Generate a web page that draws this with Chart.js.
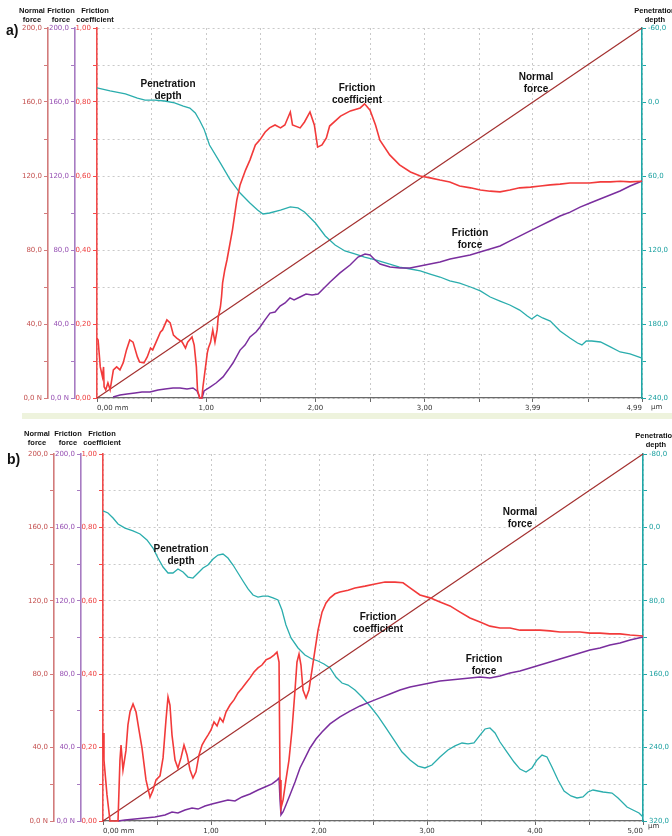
<!DOCTYPE html>
<html>
<head>
<meta charset="utf-8">
<script src="https://cdn.jsdelivr.net/npm/chart.js@4.4.1/dist/chart.umd.min.js"></script>
<style>
  html, body { margin: 0; padding: 0; background: #fff; }
  body { width: 672px; height: 836px; overflow: hidden; position: relative;
         font-family: "Liberation Sans", Arial, sans-serif; }
  canvas { position: absolute; left: 0; }
  .t { position: absolute; font-weight: bold; text-align: center; white-space: nowrap;
       transform: translateX(-50%); color: #111; }
  .ax { font-size: 7.5px; line-height: 8.5px; }
  .note { font-size: 10px; line-height: 12px; }
  .pl { position: absolute; font-weight: bold; font-size: 14px; color: #111; }
  .unit { position: absolute; font-family: "DejaVu Sans", sans-serif; font-size: 7px; color: #333; }
  .band { position: absolute; left: 22px; width: 650px; top: 413px; height: 6px; background: #eef3dd; }
</style>
</head>
<body>
<canvas id="ca" width="672" height="418" style="top:0"></canvas>
<canvas id="cb" width="672" height="416" style="top:420px"></canvas>
<div class="band"></div>

<!-- panel a) headings -->
<div class="pl" style="left:6px;top:22px">a)</div>
<div class="t ax" style="left:32px;top:7px">Normal<br>force</div>
<div class="t ax" style="left:61px;top:7px">Friction<br>force</div>
<div class="t ax" style="left:95px;top:7px">Friction<br>coefficient</div>
<div class="t ax" style="left:655px;top:7px">Penetration<br>depth</div>
<div class="t note" style="left:168px;top:78px">Penetration<br>depth</div>
<div class="t note" style="left:357px;top:82px">Friction<br>coefficient</div>
<div class="t note" style="left:536px;top:71px">Normal<br>force</div>
<div class="t note" style="left:470px;top:227px">Friction<br>force</div>
<div class="unit" style="left:651px;top:403px">µm</div>

<!-- panel b) headings -->
<div class="pl" style="left:7px;top:451px">b)</div>
<div class="t ax" style="left:37px;top:430px">Normal<br>force</div>
<div class="t ax" style="left:68px;top:430px">Friction<br>force</div>
<div class="t ax" style="left:102px;top:430px">Friction<br>coefficient</div>
<div class="t ax" style="left:656px;top:432px">Penetration<br>depth</div>
<div class="t note" style="left:181px;top:543px">Penetration<br>depth</div>
<div class="t note" style="left:378px;top:611px">Friction<br>coefficient</div>
<div class="t note" style="left:520px;top:506px">Normal<br>force</div>
<div class="t note" style="left:484px;top:653px">Friction<br>force</div>
<div class="unit" style="left:648px;top:822px">µm</div>

<script>
// ---------- shared tick labels (listed from the axis minimum upward) ----------
const forceTickLabels = ['0,0 N', '', '40,0', '', '80,0', '', '120,0', '', '160,0', '', '200,0'];
const coefTickLabels  = ['0,00', '', '0,20', '', '0,40', '', '0,60', '', '0,80', '', '1,00'];

// ---------- panel a) : sliding distance in mm ----------
const aXTicks  = [0, 0.5, 1, 1.5, 2, 2.5, 3, 3.5, 3.99, 4.5, 4.99];
const aXLabels = ['0,00 mm', '', '1,00', '', '2,00', '', '3,00', '', '3,99', '', '4,99'];
const aDepthTickLabels = ['-60,0', '', '0,0', '', '60,0', '', '120,0', '', '180,0', '', '240,0'];

const aNormal = [[0, 0], [4.99, 200]];                       // N
const aCoef = [                                               // friction coefficient
  [0.00,0.162],[0.01,0.157],[0.03,0.084],[0.05,0.057],[0.06,0.084],[0.065,0.030],[0.08,0.022],
  [0.10,0.041],[0.12,0.022],[0.15,0.076],[0.18,0.084],[0.21,0.076],[0.24,0.095],[0.27,0.130],
  [0.30,0.157],[0.33,0.151],[0.37,0.111],[0.39,0.097],[0.43,0.095],[0.46,0.111],[0.49,0.135],
  [0.51,0.130],[0.55,0.157],[0.58,0.178],[0.60,0.184],[0.64,0.211],[0.67,0.203],[0.70,0.170],
  [0.73,0.162],[0.78,0.151],[0.81,0.135],[0.83,0.151],[0.87,0.165],[0.89,0.143],[0.91,0.084],
  [0.92,0.022],[0.94,0.000],[0.96,0.000],[0.97,0.030],[0.99,0.076],[1.01,0.122],[1.02,0.135],
  [1.04,0.151],[1.06,0.184],[1.08,0.151],[1.10,0.184],[1.11,0.219],[1.13,0.246],[1.14,0.273],
  [1.15,0.311],[1.17,0.346],[1.19,0.373],[1.24,0.454],[1.28,0.535],[1.31,0.576],[1.36,0.616],
  [1.40,0.643],[1.45,0.684],[1.49,0.697],[1.54,0.719],[1.58,0.730],[1.63,0.738],[1.68,0.730],
  [1.72,0.738],[1.77,0.773],[1.79,0.738],[1.86,0.730],[1.90,0.746],[1.95,0.773],[1.99,0.738],
  [2.02,0.678],[2.06,0.684],[2.10,0.703],[2.13,0.735],[2.23,0.762],[2.32,0.776],[2.41,0.784],
  [2.45,0.795],[2.50,0.778],[2.55,0.738],[2.59,0.697],[2.68,0.657],[2.77,0.630],[2.87,0.611],
  [2.96,0.600],[3.05,0.595],[3.14,0.589],[3.23,0.584],[3.32,0.573],[3.42,0.568],[3.51,0.562],
  [3.60,0.559],[3.69,0.557],[3.78,0.562],[3.87,0.568],[3.97,0.570],[4.06,0.573],[4.15,0.576],
  [4.24,0.578],[4.33,0.581],[4.42,0.581],[4.51,0.581],[4.61,0.584],[4.70,0.584],[4.79,0.586],
  [4.88,0.584],[4.99,0.586]
];
const aFriction = [                                           // N
  [0.147,0.5],[0.211,1.6],[0.275,2.2],[0.348,2.7],[0.412,3.2],[0.485,3.2],[0.559,4.3],[0.623,4.9],
  [0.696,5.4],[0.760,5.4],[0.824,4.9],[0.879,5.4],[0.916,3.8],[0.943,0],[0.962,0],[0.980,3.8],
  [1.035,5.9],[1.090,8.1],[1.154,11.4],[1.200,15.1],[1.245,18.9],[1.310,25.9],[1.355,28.6],
  [1.401,33.0],[1.456,35.7],[1.493,38.4],[1.538,42.2],[1.584,45.9],[1.630,46.5],[1.676,49.7],
  [1.722,51.4],[1.767,54.1],[1.804,53.0],[1.859,54.6],[1.914,56.2],[1.969,55.7],[2.024,56.2],
  [2.079,59.5],[2.134,62.7],[2.225,67.6],[2.317,71.9],[2.390,76.2],[2.454,77.8],[2.500,77.3],
  [2.546,74.6],[2.592,72.4],[2.683,70.8],[2.775,70.3],[2.866,70.3],[2.958,71.4],[3.049,72.4],
  [3.141,73.5],[3.233,75.1],[3.324,76.2],[3.416,77.3],[3.507,78.9],[3.599,80.5],[3.690,82.2],
  [3.782,84.9],[3.874,87.6],[3.965,90.3],[4.057,93.0],[4.148,95.7],[4.240,98.4],[4.332,100.5],
  [4.423,103.2],[4.515,105.4],[4.606,107.6],[4.698,109.7],[4.789,111.9],[4.881,114.6],[4.991,117.3]
];
const aDepth = [                                              // µm
  [0.00,-11.4],[0.12,-9.0],[0.26,-6.5],[0.37,-3.2],[0.44,-1.6],[0.53,-1.6],[0.62,-0.8],[0.71,0.8],
  [0.79,3.3],[0.85,4.9],[0.90,8.9],[0.94,15.0],[0.98,22.0],[1.03,34.9],[1.13,49.5],[1.22,63.2],
  [1.31,73.8],[1.40,81.9],[1.47,87.6],[1.52,90.8],[1.58,90.0],[1.68,87.6],[1.77,85.1],[1.84,85.9],
  [1.90,89.2],[2.00,98.1],[2.09,108.6],[2.18,116.0],[2.27,120.8],[2.36,123.2],[2.45,125.7],
  [2.55,128.1],[2.68,131.4],[2.77,133.8],[2.87,135.4],[2.96,137.0],[3.05,139.5],[3.14,141.9],
  [3.23,145.1],[3.32,146.8],[3.42,150.0],[3.51,153.2],[3.60,158.1],[3.69,161.4],[3.78,164.6],
  [3.87,168.7],[3.94,173.5],[3.98,176.0],[4.03,172.7],[4.08,175.1],[4.15,177.6],[4.24,185.7],
  [4.33,191.4],[4.40,195.4],[4.44,197.0],[4.48,193.8],[4.53,193.8],[4.61,194.6],[4.70,198.6],
  [4.79,202.7],[4.88,204.3],[4.99,207.6]
];

// ---------- panel b) ----------
const bXTicks  = [0, 0.5, 1, 1.5, 2, 2.5, 3, 3.5, 4, 4.5, 5];
const bXLabels = ['0,00 mm', '', '1,00', '', '2,00', '', '3,00', '', '4,00', '', '5,00'];
const bDepthTickLabels = ['-80,0', '', '0,0', '', '80,0', '', '160,0', '', '240,0', '', '320,0'];

const bNormal = [[0, 0], [5, 200]];
const bCoef = [
  [0.000,0.240],[0.009,0.166],[0.037,0.071],[0.065,0.000],[0.139,0.000],[0.157,0.166],[0.167,0.207],
  [0.185,0.139],[0.213,0.193],[0.231,0.262],[0.250,0.297],[0.278,0.319],[0.306,0.297],[0.333,0.248],
  [0.361,0.199],[0.398,0.112],[0.435,0.065],[0.463,0.084],[0.491,0.112],[0.528,0.123],[0.556,0.172],
  [0.583,0.275],[0.602,0.338],[0.620,0.316],[0.639,0.234],[0.667,0.166],[0.694,0.144],[0.722,0.172],
  [0.750,0.207],[0.778,0.180],[0.806,0.139],[0.833,0.117],[0.861,0.134],[0.889,0.180],[0.917,0.207],
  [0.944,0.221],[0.972,0.234],[1.000,0.248],[1.028,0.270],[1.056,0.259],[1.083,0.281],[1.111,0.270],
  [1.139,0.297],[1.176,0.316],[1.213,0.330],[1.250,0.349],[1.287,0.362],[1.324,0.376],[1.361,0.390],
  [1.398,0.406],[1.435,0.417],[1.472,0.425],[1.509,0.439],[1.546,0.444],[1.583,0.452],[1.611,0.460],
  [1.630,0.433],[1.639,0.112],[1.648,0.035],[1.667,0.057],[1.694,0.112],[1.722,0.166],[1.750,0.248],
  [1.778,0.357],[1.796,0.433],[1.815,0.455],[1.833,0.425],[1.852,0.357],[1.880,0.335],[1.907,0.357],
  [1.935,0.411],[1.963,0.466],[1.991,0.520],[2.028,0.569],[2.065,0.594],[2.102,0.608],[2.148,0.619],
  [2.194,0.624],[2.269,0.629],[2.333,0.635],[2.426,0.640],[2.519,0.646],[2.611,0.651],[2.704,0.651],
  [2.778,0.649],[2.843,0.635],[2.935,0.616],[3.028,0.608],[3.120,0.597],[3.213,0.586],[3.306,0.569],
  [3.398,0.553],[3.491,0.542],[3.583,0.531],[3.676,0.526],[3.769,0.526],[3.861,0.520],[3.954,0.520],
  [4.046,0.520],[4.139,0.518],[4.231,0.515],[4.324,0.515],[4.417,0.515],[4.509,0.512],[4.602,0.512],
  [4.694,0.510],[4.787,0.510],[4.880,0.507],[5.000,0.504]
];
const bFriction = [
  [0.139,0],[0.204,0.5],[0.296,1.1],[0.389,1.6],[0.481,2.2],[0.574,3.3],[0.639,4.9],[0.694,4.4],
  [0.759,6.0],[0.824,7.1],[0.880,6.5],[0.944,8.2],[1.009,9.3],[1.083,10.4],[1.157,11.4],[1.222,10.9],
  [1.287,13.1],[1.361,14.7],[1.435,16.9],[1.500,18.5],[1.565,20.2],[1.611,22.3],[1.630,23.4],
  [1.639,11.4],[1.648,3.3],[1.667,4.9],[1.694,8.7],[1.731,14.2],[1.778,21.3],[1.824,28.9],
  [1.870,34.3],[1.917,39.8],[1.972,44.7],[2.028,48.5],[2.102,52.9],[2.194,56.7],[2.287,59.9],
  [2.380,62.7],[2.472,64.9],[2.565,67.1],[2.657,69.2],[2.750,71.4],[2.843,73.0],[2.935,74.1],
  [3.028,75.2],[3.120,76.3],[3.213,76.8],[3.306,77.4],[3.398,77.9],[3.491,78.5],[3.583,77.9],
  [3.676,79.0],[3.769,80.7],[3.861,81.7],[3.954,83.4],[4.046,85.0],[4.139,86.6],[4.231,88.3],
  [4.324,89.9],[4.417,91.6],[4.509,93.2],[4.602,94.3],[4.694,95.9],[4.787,97.0],[4.880,98.6],
  [5.000,100.3]
];
const bDepth = [
  [0.000,-17.9],[0.046,-15.7],[0.093,-10.2],[0.139,-3.7],[0.204,0.7],[0.278,3.9],[0.343,7.2],
  [0.407,13.7],[0.463,22.5],[0.509,33.4],[0.556,43.2],[0.602,49.7],[0.648,49.7],[0.694,45.3],
  [0.741,48.6],[0.787,54.1],[0.833,55.2],[0.880,49.7],[0.926,44.3],[0.972,41.0],[1.019,34.4],
  [1.065,30.1],[1.111,29.0],[1.157,33.4],[1.204,41.0],[1.250,49.7],[1.296,58.4],[1.343,67.1],
  [1.389,73.7],[1.435,75.9],[1.481,74.8],[1.528,74.8],[1.574,76.9],[1.620,79.1],[1.657,90.0],
  [1.694,106.4],[1.741,120.5],[1.806,131.4],[1.870,139.1],[1.935,143.4],[1.991,145.6],[2.046,148.9],
  [2.102,153.2],[2.157,163.1],[2.213,169.6],[2.269,171.8],[2.333,177.2],[2.398,184.9],[2.472,194.7],
  [2.546,205.6],[2.620,218.6],[2.694,231.7],[2.769,244.8],[2.843,253.5],[2.917,260.1],[2.981,262.2],
  [3.046,259.0],[3.120,250.2],[3.194,242.6],[3.259,238.2],[3.324,235.0],[3.380,236.0],[3.435,235.0],
  [3.491,226.3],[3.537,219.7],[3.583,218.6],[3.630,224.1],[3.676,233.9],[3.741,244.8],[3.806,255.7],
  [3.861,263.4],[3.917,266.7],[3.972,262.2],[4.019,253.5],[4.065,248.1],[4.111,250.2],[4.157,261.1],
  [4.213,275.3],[4.269,287.3],[4.333,292.7],[4.389,294.9],[4.444,293.8],[4.491,288.4],[4.537,286.2],
  [4.630,288.4],[4.713,289.5],[4.769,294.9],[4.852,304.7],[4.907,308.0],[4.963,311.3],[5.000,315.6]
];

// ---------- colours ----------
const C = {
  normalAxis: '#d27b7b', normalText: '#c4504f', normalLine: '#a3302f',
  fricAxis: '#a77bc2', fricText: '#9650b3', fricLine: '#7a2e9e',
  coefAxis: '#f24b4b', coefText: '#ee3b3b', coefLine: '#f23a3a',
  depthAxis: '#1fa8a8', depthText: '#1aa0a0', depthLine: '#2aadad',
  grid: '#c9c9c9', xAxis: '#6a6a6a', xText: '#333'
};
const tickFont = { family: 'DejaVu Sans', size: 7 };

function pts(pairs) { return pairs.map(p => ({ x: p[0], y: p[1] })); }

// label lookup by tick value, so it does not depend on tick ordering
function labelFor(labels, min, max) {
  const step = (max - min) / (labels.length - 1);
  return v => labels[Math.round((v - min) / step)];
}

function leftAxis(weight, width, color, text, axisColor, labels, max, onArea) {
  return {
    type: 'linear', position: 'left', weight: weight, min: 0, max: max,
    ticks: { stepSize: max / 10, autoSkip: false, color: text, font: tickFont, padding: 2,
             callback: labelFor(labels, 0, max) },
    grid: { drawOnChartArea: onArea, color: C.grid, tickColor: color, tickLength: 4, lineWidth: 1 },
    border: { color: axisColor, width: 1.6, dash: onArea ? [2, 3] : [] },
    afterFit: s => { s.width = width; }
  };
}

function build(id, cfg) {
  const ctx = document.getElementById(id);
  return new Chart(ctx, {
    type: 'scatter',
    data: {
      datasets: [
        { label: 'Friction coefficient', data: pts(cfg.coef), yAxisID: 'yC',
          borderColor: C.coefLine, borderWidth: 1.6 },
        { label: 'Friction force', data: pts(cfg.fric), yAxisID: 'yF',
          borderColor: C.fricLine, borderWidth: 1.5 },
        { label: 'Normal force', data: pts(cfg.normal), yAxisID: 'yN',
          borderColor: C.normalLine, borderWidth: 1.2 },
        { label: 'Penetration depth', data: pts(cfg.depth), yAxisID: 'yD',
          borderColor: C.depthLine, borderWidth: 1.3 }
      ].map(d => Object.assign(d, { showLine: true, pointRadius: 0, tension: 0,
                                    fill: false, clip: 3 }))
    },
    options: {
      responsive: false, animation: false, devicePixelRatio: 1,
      layout: { padding: { top: cfg.top, left: 0, right: 0, bottom: 0 } },
      plugins: { legend: { display: false }, tooltip: { enabled: false } },
      scales: {
        x: {
          type: 'linear', min: 0, max: cfg.xMax,
          afterBuildTicks: s => { s.ticks = cfg.xTicks.map(v => ({ value: v })); },
          ticks: { autoSkip: false, maxRotation: 0, align: 'inner', padding: 2,
                   color: C.xText, font: tickFont, callback: (v, i) => cfg.xLabels[i] },
          grid: { color: C.grid, tickColor: C.xAxis, tickLength: 4 },
          border: { color: C.xAxis, width: 1.2, dash: [2, 3] },
          afterFit: s => { s.height = cfg.xH; }
        },
        yC: leftAxis(1, 22, C.coefAxis, C.coefText, C.coefAxis, coefTickLabels, 1, true),
        yF: leftAxis(2, 27, C.fricAxis, C.fricText, C.fricAxis, forceTickLabels, 200, false),
        yN: leftAxis(3, cfg.nW, C.normalAxis, C.normalText, C.normalAxis, forceTickLabels, 200, false),
        yD: {
          type: 'linear', position: 'right', reverse: true, min: cfg.dMin, max: cfg.dMax,
          ticks: { stepSize: (cfg.dMax - cfg.dMin) / 10, autoSkip: false, color: C.depthText,
                   font: tickFont, padding: 2, callback: labelFor(cfg.dLabels, cfg.dMin, cfg.dMax) },
          grid: { drawOnChartArea: false, tickColor: C.depthAxis, tickLength: 4 },
          border: { color: C.depthAxis, width: 1.6 },
          afterFit: s => { s.width = cfg.rW; }
        }
      }
    }
  });
}

build('ca', { coef: aCoef, fric: aFriction, normal: aNormal, depth: aDepth,
              xMax: 4.99, xTicks: aXTicks, xLabels: aXLabels, dMin: -60, dMax: 240,
              dLabels: aDepthTickLabels, top: 28, xH: 20, nW: 48, rW: 30 });
build('cb', { coef: bCoef, fric: bFriction, normal: bNormal, depth: bDepth,
              xMax: 5, xTicks: bXTicks, xLabels: bXLabels, dMin: -80, dMax: 320,
              dLabels: bDepthTickLabels, top: 34, xH: 15, nW: 54, rW: 29 });
</script>
</body>
</html>
